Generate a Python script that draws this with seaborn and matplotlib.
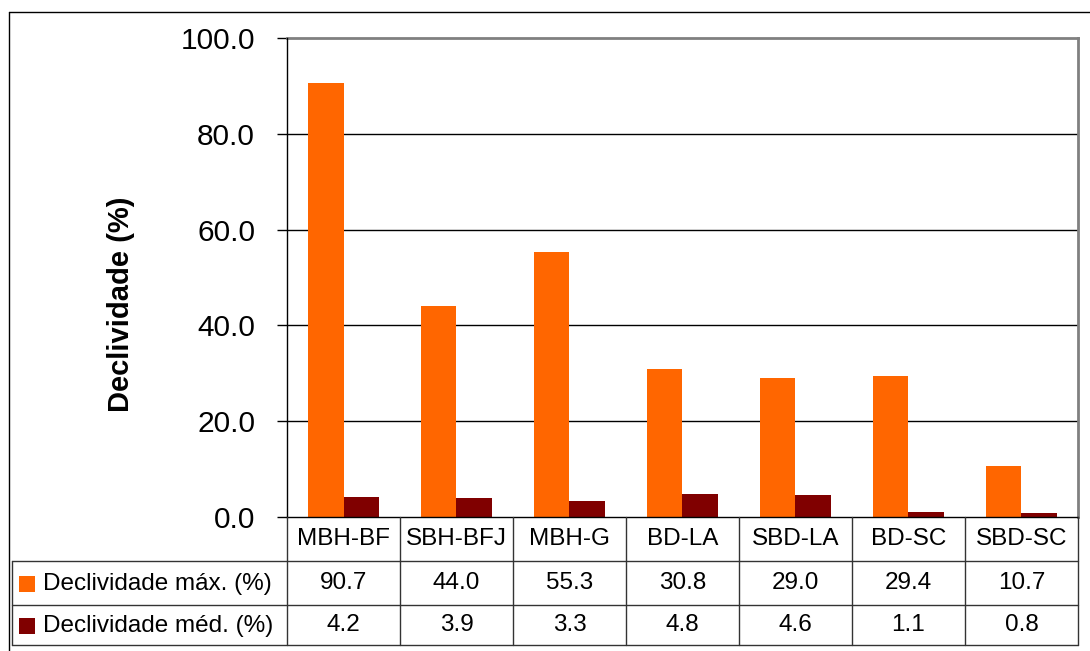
import matplotlib
matplotlib.use("Agg")
import matplotlib.pyplot as plt
from matplotlib.lines import Line2D
from matplotlib.patches import Rectangle
from matplotlib.transforms import blended_transform_factory
import seaborn as sns
import pandas as pd

# Data
sites = ["MBH-BF", "SBH-BFJ", "MBH-G", "BD-LA", "SBD-LA", "BD-SC", "SBD-SC"]
decl_max = [90.7, 44.0, 55.3, 30.8, 29.0, 29.4, 10.7]
decl_med = [4.2, 3.9, 3.3, 4.8, 4.6, 1.1, 0.8]
series_names = ["Declividade máx. (%)", "Declividade méd. (%)"]
series_colors = ["#FF6600", "#800000"]
y_ticks = [0, 20, 40, 60, 80, 100]

df = pd.DataFrame({
    "site": sites * 2,
    "serie": [series_names[0]] * len(sites) + [series_names[1]] * len(sites),
    "valor": decl_max + decl_med,
})

sns.set_theme(style="white")
plt.rcParams["font.family"] = ["Liberation Sans", "DejaVu Sans"]
plt.rcParams.update({
    "text.color": "black",
    "axes.labelcolor": "black",
    "xtick.color": "black",
    "ytick.color": "black",
    "xtick.labelcolor": "black",
    "ytick.labelcolor": "black",
})

W, H = 1090, 651
fig = plt.figure(figsize=(W / 100, H / 100), dpi=100)
fig.patch.set_facecolor("white")

ax_l, ax_r, ax_t, ax_b = 287, 1078, 38, 517
ax = fig.add_axes([ax_l / W, 1 - ax_b / H, (ax_r - ax_l) / W, (ax_b - ax_t) / H])

sns.barplot(data=df, x="site", y="valor", hue="serie", order=sites,
            hue_order=series_names, palette=series_colors, width=0.62,
            gap=0, saturation=1, errorbar=None, legend=False, ax=ax,
            linewidth=0, zorder=3)

ax.set_xlim(-0.5, len(sites) - 0.5)
ax.set_ylim(0, 100)
ax.set_yticks(y_ticks)
ax.set_yticklabels([f"{v:.1f}" for v in y_ticks], fontsize=21.5, color="black")
ax.set_xticks(range(len(sites)))
ax.set_xticklabels([])
ax.tick_params(axis="x", length=0)
ax.tick_params(axis="y", direction="out", length=7, width=1, color="black",
               pad=16, left=True)
ax.set_xlabel("")

# Horizontal gridlines
for v in y_ticks[1:-1]:
    ax.axhline(v, color="black", linewidth=1, zorder=1)

for side in ("top", "right"):
    ax.spines[side].set_color("#808080")
    ax.spines[side].set_linewidth(2)
for side in ("left", "bottom"):
    ax.spines[side].set_color("black")
    ax.spines[side].set_linewidth(1)
    ax.spines[side].set_zorder(5)

ax.set_ylabel("Declividade (%)", fontsize=21, fontweight="bold", color="black")
ax.yaxis.set_label_coords((121 - ax_l) / (ax_r - ax_l), (ax_b - 304) / (ax_b - ax_t))
ax.yaxis.label.set_va("center")

# Data table under the chart
def fy(py):
    return 1 - py / H

def fx(px):
    return px / W

xdata_yfig = blended_transform_factory(ax.transData, fig.transFigure)
row_lines = [561, 605, 645]
tbl_left = 12
lc = "#333333"

for k in range(len(sites) + 1):
    fig.add_artist(Line2D([k - 0.5, k - 0.5], [fy(ax_b), fy(645)],
                          transform=xdata_yfig, color=lc, linewidth=1))
for py in row_lines:
    fig.add_artist(Line2D([fx(tbl_left), fx(ax_r)], [fy(py), fy(py)],
                          color=lc, linewidth=1))
fig.add_artist(Line2D([fx(tbl_left), fx(tbl_left)], [fy(561), fy(645)],
                      color=lc, linewidth=1))

tfs = 17.5
for i, s in enumerate(sites):
    fig.text(i, fy(539), s, transform=xdata_yfig, ha="center", va="center",
             fontsize=tfs, color="black")
    fig.text(i, fy(583), f"{decl_max[i]:.1f}", transform=xdata_yfig,
             ha="center", va="center", fontsize=tfs, color="black")
    fig.text(i, fy(625), f"{decl_med[i]:.1f}", transform=xdata_yfig,
             ha="center", va="center", fontsize=tfs, color="black")

for name, color, cy in zip(series_names, series_colors, [584, 626]):
    fig.add_artist(Rectangle((fx(19), fy(cy + 8)), 16 / W, 16 / H,
                             transform=fig.transFigure, facecolor=color,
                             edgecolor="none"))
    fig.text(fx(43), fy(cy), name, ha="left", va="center", fontsize=17.5,
             color="black")

# Chart frame
fig.add_artist(Line2D([fx(9), 1], [fy(12), fy(12)], color="black", linewidth=1))
fig.add_artist(Line2D([fx(9), fx(9)], [fy(12), 0], color="black", linewidth=1))

fig.savefig("out.png", dpi=100, facecolor="white")
